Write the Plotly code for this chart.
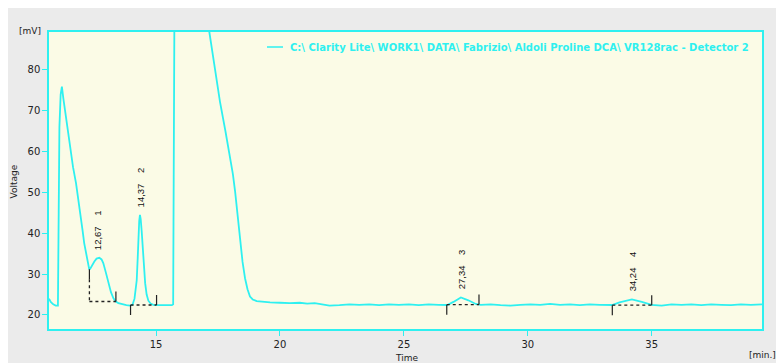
import plotly.graph_objects as go

# ---------------- data ----------------
time_min = [
    10.68, 10.75, 10.85, 10.95, 11.04, 11.06, 11.10, 11.15, 11.20, 11.26,
    11.40, 11.53, 11.65, 11.77, 11.87, 11.97, 12.04, 12.10, 12.17, 12.24,
    12.30, 12.34, 12.40, 12.51, 12.60, 12.71, 12.80, 12.87, 12.97, 13.07,
    13.18, 13.28, 13.38, 13.48, 13.65, 13.80, 13.95, 14.05, 14.13, 14.18,
    14.22, 14.26, 14.29, 14.32, 14.35, 14.38, 14.42, 14.49, 14.56, 14.62,
    14.69, 14.78, 14.89, 15.10, 15.30, 15.50, 15.64, 15.69, 15.72, 15.745,
    16.50, 17.00, 17.15, 17.36, 17.58, 17.80, 17.99, 18.10, 18.19, 18.29,
    18.39, 18.49, 18.59, 18.69, 18.79, 18.90, 19.06, 19.30, 19.60, 20.00,
    20.40, 20.80, 21.10, 21.40, 21.70, 22.00, 22.40, 22.80, 23.20, 23.60,
    24.00, 24.40, 24.80, 25.20, 25.60, 26.00, 26.40, 26.75, 27.00, 27.30,
    27.60, 27.90, 28.10, 28.50, 28.90, 29.30, 29.70, 30.10, 30.50, 30.90,
    31.30, 31.70, 32.10, 32.50, 32.90, 33.40, 33.70, 34.20, 34.60, 35.00,
    35.40, 35.80, 36.20, 36.60, 37.00, 37.40, 37.80, 38.20, 38.60, 39.00,
    39.45,
]
voltage_mv = [
    24.0, 23.2, 22.6, 22.3, 22.3, 38.0, 66.0, 74.0, 75.9, 73.0,
    66.5, 60.4, 56.2, 52.3, 48.3, 44.1, 40.5, 37.6, 35.0, 32.7,
    31.3, 31.3, 32.0, 33.1, 33.8, 34.0, 33.6, 32.7, 30.5, 27.8,
    25.6, 24.1, 23.3, 22.9, 22.6, 22.4, 22.3, 22.5, 24.0, 26.0,
    28.5, 34.0, 39.5, 43.0, 44.5, 43.5, 40.5, 34.0, 27.8, 25.0,
    23.5, 22.8, 22.5, 22.4, 22.4, 22.4, 22.4, 22.6, 60.0, 100.0,
    400.0, 95.5, 89.3, 80.5, 72.2, 65.0, 58.4, 54.5, 50.2, 44.5,
    38.0, 33.0, 29.0, 26.3, 24.5, 23.8, 23.4, 23.2, 23.1, 23.0,
    22.9, 23.0, 22.8, 22.9, 22.6, 22.3, 22.4, 22.6, 22.5, 22.6,
    22.4, 22.6, 22.5, 22.6, 22.4, 22.6, 22.5, 22.45, 23.2, 24.3,
    23.6, 22.7, 22.5, 22.6, 22.4, 22.3, 22.5, 22.6, 22.5, 22.7,
    22.5, 22.6, 22.4, 22.6, 22.5, 22.45, 23.1, 23.8, 23.2, 22.5,
    22.3, 22.6, 22.5, 22.6, 22.4, 22.6, 22.5, 22.4, 22.6, 22.5,
    22.6,
]

peak_ids = ["1", "2", "3", "4"]
peak_rt = [12.67, 14.37, 27.34, 34.24]
peak_apex_mv = [34.0, 44.5, 24.3, 23.8]
peak_start_t = [12.31, 13.97, 26.73, 33.41]
peak_start_mv = [31.2, 22.45, 22.50, 22.40]
peak_base_mv = [23.3, 22.45, 22.55, 22.40]
peak_end_t = [13.38, 15.02, 28.03, 35.00]

x_ticks = [15, 20, 25, 30, 35]
y_ticks = [20, 30, 40, 50, 60, 70, 80]
x_range = [10.68, 39.45]
y_range = [16.57, 89.3]

legend_text = r"C:\ Clarity Lite\ WORK1\ DATA\ Fabrizio\ Aldoli Proline DCA\ VR128rac - Detector 2"

# ---------------- style ----------------
CYAN = "#2ef0f0"
TICK_MV = 2.45
OFF = 8                      # page body margin
PAGE_W, PAGE_H = 784, 363
W, H = PAGE_W - OFF, PAGE_H - OFF
PL, PT, PR, PB = 49, 32, 762, 329   # plot area in page pixels
ML, MT, MR, MB = PL - OFF, PT - OFF, PAGE_W - PR, PAGE_H - PB
PW, PH = PR - PL, PB - PT


def px_x(p):
    return (p - PL) / PW


def px_y(p):
    return (PB - p) / PH


fig = go.Figure()
fig.add_trace(go.Scatter(
    x=time_min, y=voltage_mv, mode="lines",
    line=dict(color=CYAN, width=1.8),
    name=legend_text, showlegend=False,
))

shapes = []
for st, sv, bv, et in zip(peak_start_t, peak_start_mv, peak_base_mv, peak_end_t):
    shapes.append(dict(type="line", x0=st, x1=st, y0=sv, y1=sv - TICK_MV,
                       line=dict(color="#222", width=1.2)))
    if bv < sv - TICK_MV:
        shapes.append(dict(type="line", x0=st, x1=st, y0=sv - TICK_MV, y1=bv,
                           line=dict(color="#222", width=1.3, dash="dot")))
    shapes.append(dict(type="line", x0=st, x1=et, y0=bv, y1=bv,
                       line=dict(color="#222", width=1.3, dash="dot")))
    shapes.append(dict(type="line", x0=et, x1=et, y0=bv, y1=bv + TICK_MV,
                       line=dict(color="#222", width=1.2)))

# legend sample line
shapes.append(dict(type="line", xref="paper", yref="paper", x0=px_x(267), x1=px_x(283),
                   y0=px_y(47), y1=px_y(47), line=dict(color=CYAN, width=1.5)))

annotations = []
for pid, rt, apex in zip(peak_ids, peak_rt, peak_apex_mv):
    label = f"{rt:.2f}".replace(".", ",") + "\u00a0\u00a0\u00a0\u00a0" + pid
    annotations.append(dict(x=rt, y=apex, text=label, textangle=-90, showarrow=False,
                            xanchor="center", yanchor="bottom", yshift=6,
                            font=dict(family="Liberation Sans", size=9.5, color="#111")))

annotations += [
    dict(xref="paper", yref="paper", x=px_x(43), y=px_y(31), text="[mV]", showarrow=False,
         xanchor="right", yanchor="middle", font=dict(family="DejaVu Sans", size=9, color="#222")),
    dict(xref="paper", yref="paper", x=px_x(13.5), y=px_y(182), text="Voltage", showarrow=False,
         textangle=-90, xanchor="center", yanchor="middle",
         font=dict(family="DejaVu Sans", size=9, color="#222")),
    dict(xref="paper", yref="paper", x=px_x(406), y=px_y(358), text="Time", showarrow=False,
         xanchor="center", yanchor="middle", font=dict(family="DejaVu Sans", size=9, color="#222")),
    dict(xref="paper", yref="paper", x=px_x(762), y=px_y(355), text="[min.]", showarrow=False,
         xanchor="center", yanchor="middle", font=dict(family="DejaVu Sans", size=9, color="#222")),
    dict(xref="paper", yref="paper", x=px_x(288), y=px_y(47), text=legend_text, showarrow=False,
         xanchor="left", yanchor="middle",
         font=dict(family="DejaVu Sans", size=10, color=CYAN, weight="bold")),
]

axis_common = dict(
    showgrid=False, zeroline=False, showline=True, mirror=True,
    linecolor=CYAN, linewidth=1.5, ticks="outside", tickcolor=CYAN, ticklen=5, tickwidth=1,
    tickfont=dict(family="DejaVu Sans", size=10, color="#222"),
)

fig.update_layout(
    width=W, height=H,
    margin=dict(l=ML, r=MR, t=MT, b=MB, pad=0),
    paper_bgcolor="#ebebeb",
    plot_bgcolor="#fbfbe6",
    xaxis=dict(range=x_range, tickvals=x_ticks, **axis_common),
    yaxis=dict(range=y_range, tickvals=y_ticks, **axis_common),
    shapes=shapes,
    annotations=annotations,
    showlegend=False,
)

fig.write_html("out.html")
